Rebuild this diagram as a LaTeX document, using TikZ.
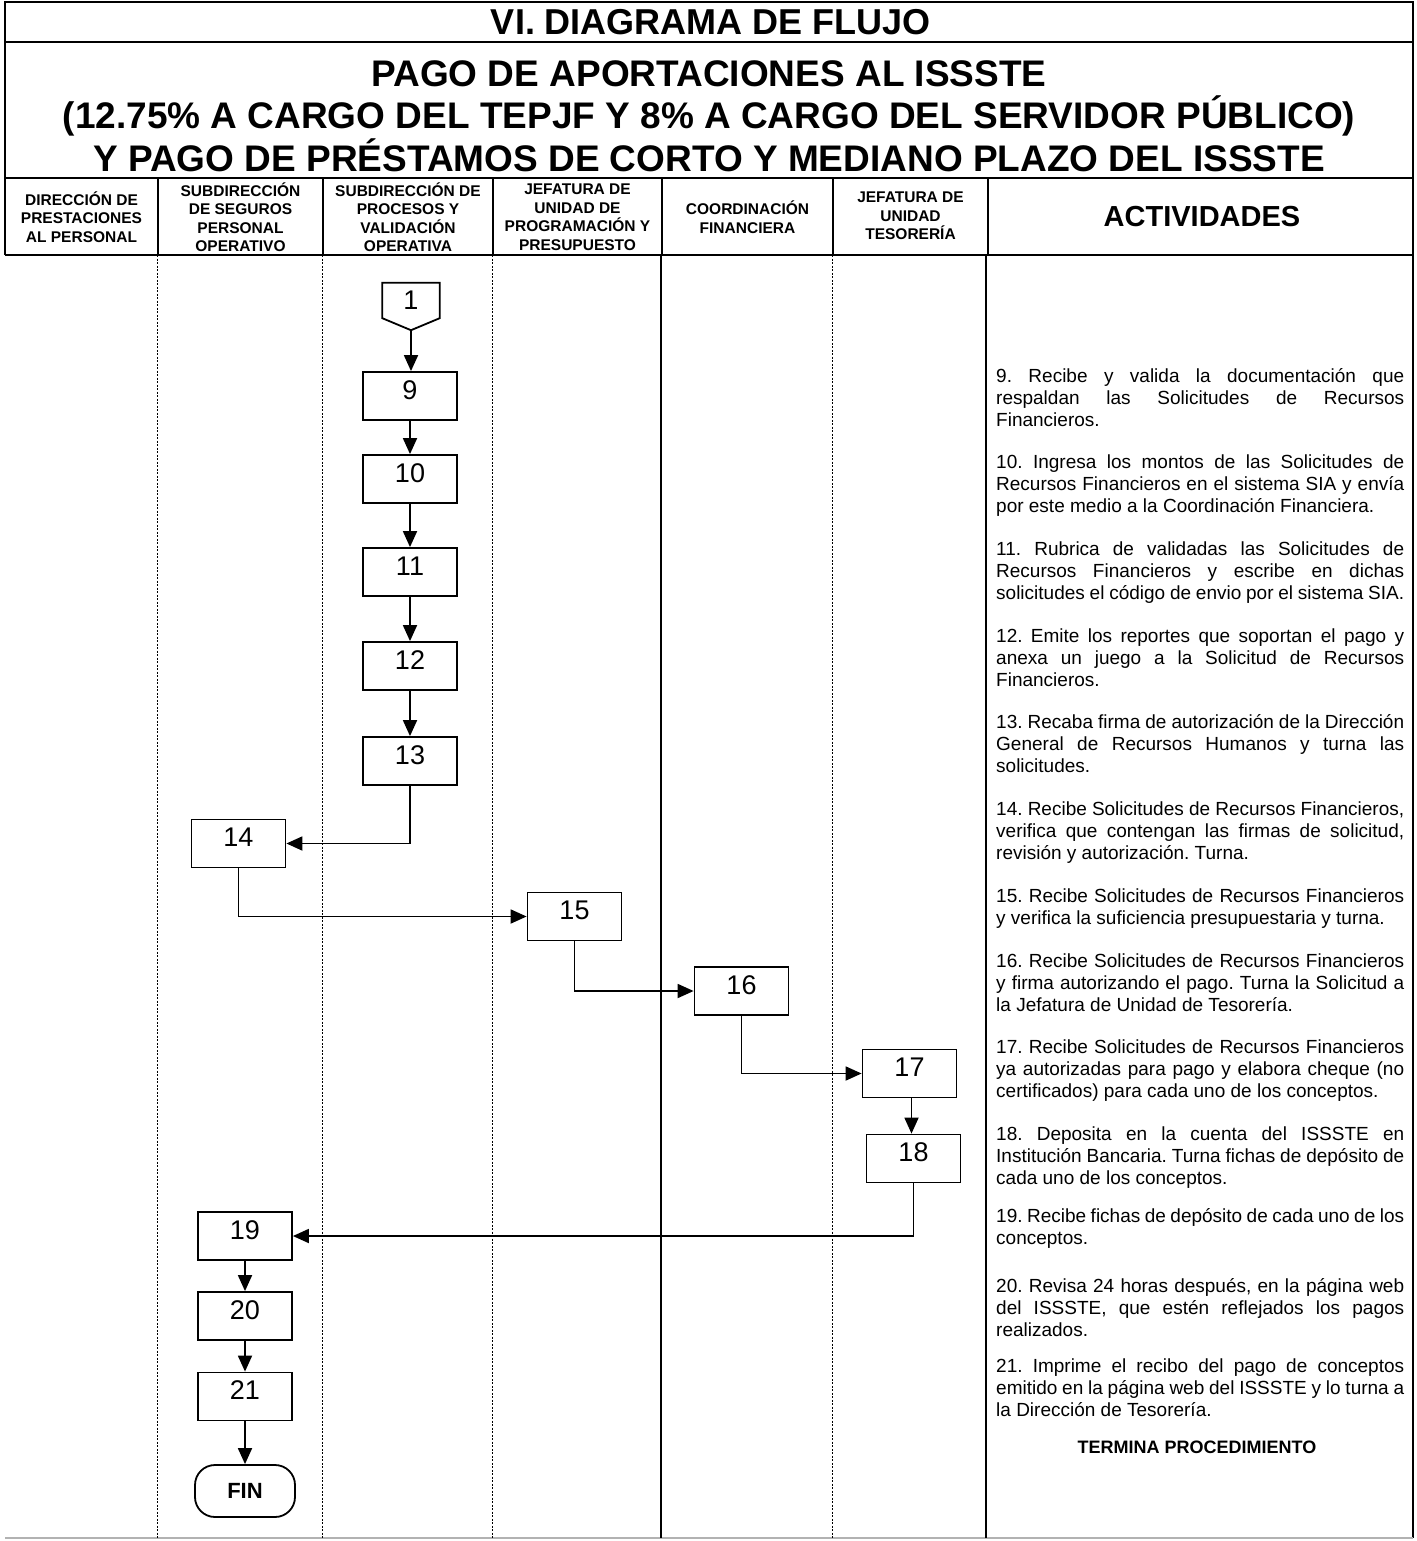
\documentclass[tikz,border=0pt]{standalone}
\usepackage{fontspec}
\setmainfont{Liberation Sans}
\usepackage{tikz}
\usetikzlibrary{positioning}
\usetikzlibrary{calc}
\usetikzlibrary{arrows.meta}
\frenchspacing
\hyphenpenalty=10000

\tikzset{
  marco/.style={line width=1.8pt},
  carril/.style={line width=1pt, dash pattern=on 2pt off 1.5pt},
  caja/.style={draw, line width=1.8pt, minimum width=94pt, minimum height=48pt, inner sep=0pt,
    font=\fontsize{27}{27}\selectfont, text depth=12pt},
  conector/.style={minimum width=57pt, minimum height=35pt, inner sep=0pt, font=\fontsize{27}{27}\selectfont},
  terminal/.style={draw, line width=1.8pt, rounded corners=20pt, minimum width=100pt, minimum height=52pt,
    inner sep=0pt, font=\bfseries\fontsize{22}{22}\selectfont},
  flecha/.style={line width=1.8pt, -{Triangle[length=16pt,width=14pt]}},
  encabezado/.style={align=center, inner sep=0pt, font=\bfseries\fontsize{15.5}{18.5}\selectfont},
  actividad/.style={anchor=base west, text width=408pt, inner sep=0pt, align=justify,
    font=\fontsize{19}{22}\selectfont},
}

\begin{document}
\begin{tikzpicture}[x=1pt, y=-1pt]
\useasboundingbox (0,0) rectangle (1416,1541);

% Marco y titulos
\draw[marco] (5,255) -- (5,2) -- (1413,2) -- (1413,1538);
\draw[marco] (5,42) -- (1413,42);
\draw[marco] (5,178) -- (1413,178);
\draw[marco] (5,255) -- (1413,255);
\draw[line width=1.5pt, gray!60] (5,1538) -- (1413,1538);
\foreach \x in {158,323,493,662,833,988} \draw[marco] (\x,178) -- (\x,255);
\foreach \x in {157,322,492,832} \draw[carril] (\x,255) -- (\x,1538);
\foreach \x in {661,986} \draw[line width=1.2pt] (\x,255) -- (\x,1538);

\node[font=\bfseries\fontsize{36}{36}\selectfont] (titulo) at (711,22) {VI. DIAGRAMA DE FLUJO};
\node[align=center, inner sep=0pt, font=\bfseries\fontsize{37}{42.5}\selectfont] (subtitulo) at (709,116)
  {PAGO DE APORTACIONES AL ISSSTE\\(12.75\% A CARGO DEL TEPJF Y 8\% A CARGO DEL SERVIDOR PÚBLICO)\\Y PAGO DE PRÉSTAMOS DE CORTO Y MEDIANO PLAZO DEL ISSSTE};

% Encabezados de carriles
\node[encabezado] (h1) at (81.5,217) {DIRECCIÓN DE\\PRESTACIONES\\AL PERSONAL};
\node[encabezado] (h2) at (240.5,217) {SUBDIRECCIÓN\\DE SEGUROS\\PERSONAL\\OPERATIVO};
\node[encabezado] (h3) at (408,217) {SUBDIRECCIÓN DE\\PROCESOS Y\\VALIDACIÓN\\OPERATIVA};
\node[encabezado] (h4) at (577.5,217) {JEFATURA DE\\UNIDAD DE\\PROGRAMACIÓN Y\\PRESUPUESTO};
\node[encabezado] (h5) at (747.5,217) {COORDINACIÓN\\FINANCIERA};
\node[encabezado] (h6) at (910.5,216) {JEFATURA DE\\UNIDAD\\TESORERÍA};
\node[font=\bfseries\fontsize{29}{29}\selectfont] (h7) at (1202,217) {ACTIVIDADES};

% Conector y cajas
\node[conector] (c1) at (411,300.5) {1};
\coordinate (c1p) at ($(c1.south)+(0,12)$);
\draw[marco] (c1.south west) -- (c1.north west) -- (c1.north east) -- (c1.south east) -- (c1p) -- cycle;

\node[caja] (b9) at (410,396) {9};
\node[caja] (b10) at (410,479) {10};
\node[caja] (b11) at (410,572) {11};
\node[caja] (b12) at (410,666) {12};
\node[caja] (b13) at (410,761) {13};
\node[caja] (b14) at (238.5,843.5) {14};
\node[caja] (b15) at (574.5,916.5) {15};
\node[caja] (b16) at (741.5,991) {16};
\node[caja] (b17) at (909.5,1073.5) {17};
\node[caja] (b18) at (913.5,1158.5) {18};
\node[caja] (b19) at (245,1236) {19};
\node[caja] (b20) at (245,1316) {20};
\node[caja] (b21) at (245,1396.5) {21};
\node[terminal] (fin) at (245,1491) {FIN};

\draw[flecha] (c1p) -- (c1p |- b9.north);
\draw[flecha] (b9) -- (b10);
\draw[flecha] (b10) -- (b11);
\draw[flecha] (b11) -- (b12);
\draw[flecha] (b12) -- (b13);
\draw[flecha] (b13.south) |- (b14.east);
\draw[flecha] (b14.south) |- (b15.west);
\draw[flecha] (b15.south) |- (b16.west);
\draw[flecha] (b16.south) |- (b17.west);
\draw[flecha] ($(b17.south)+(2,0)$) -- ($(b17.south |- b18.north)+(2,0)$);
\draw[flecha] (b18.south) |- (b19.east);
\draw[flecha] (b19) -- (b20);
\draw[flecha] (b20) -- (b21);
\draw[flecha] (b21) -- (fin);

% Actividades
\node[actividad] (a9) at (996,382) {9. Recibe y valida la documentación que\linebreak respaldan las Solicitudes de Recursos\linebreak Financieros.};
\node[actividad] (a10) at (996,468) {10. Ingresa los montos de las Solicitudes de\linebreak Recursos Financieros en el sistema SIA y envía\linebreak por este medio a la Coordinación Financiera.};
\node[actividad] (a11) at (996,555) {11. Rubrica de validadas las Solicitudes de\linebreak Recursos Financieros y escribe en dichas\linebreak solicitudes el código de envio por el sistema SIA.};
\node[actividad] (a12) at (996,642) {12. Emite los reportes que soportan el pago y\linebreak anexa un juego a la Solicitud de Recursos\linebreak Financieros.};
\node[actividad] (a13) at (996,728) {13. Recaba firma de autorización de la Dirección\linebreak General de Recursos Humanos y turna las\linebreak solicitudes.};
\node[actividad] (a14) at (996,815) {14. Recibe Solicitudes de Recursos Financieros,\linebreak verifica que contengan las firmas de solicitud,\linebreak revisión y autorización. Turna.};
\node[actividad] (a15) at (996,902) {15. Recibe Solicitudes de Recursos Financieros\linebreak y verifica la suficiencia presupuestaria y turna.};
\node[actividad] (a16) at (996,967) {16. Recibe Solicitudes de Recursos Financieros\linebreak y firma autorizando el pago. Turna la Solicitud a\linebreak la Jefatura de Unidad de Tesorería.};
\node[actividad] (a17) at (996,1053) {17. Recibe Solicitudes de Recursos Financieros\linebreak ya autorizadas para pago y elabora cheque (no\linebreak certificados) para cada uno de los conceptos.};
\node[actividad] (a18) at (996,1140) {18. Deposita en la cuenta del ISSSTE en\linebreak Institución Bancaria. Turna fichas de depósito de\linebreak cada uno de los conceptos.};
\node[actividad] (a19) at (996,1222) {19. Recibe fichas de depósito de cada uno de los\linebreak conceptos.};
\node[actividad] (a20) at (996,1292) {20. Revisa 24 horas después, en la página web\linebreak del ISSSTE, que estén reflejados los pagos\linebreak realizados.};
\node[actividad] (a21) at (996,1372) {21. Imprime el recibo del pago de conceptos\linebreak emitido en la página web del ISSSTE y lo turna a\linebreak la Dirección de Tesorería.};
\node[font=\bfseries\fontsize{18}{18}\selectfont] (termina) at (1197,1447) {TERMINA PROCEDIMIENTO};
\end{tikzpicture}
\end{document}
